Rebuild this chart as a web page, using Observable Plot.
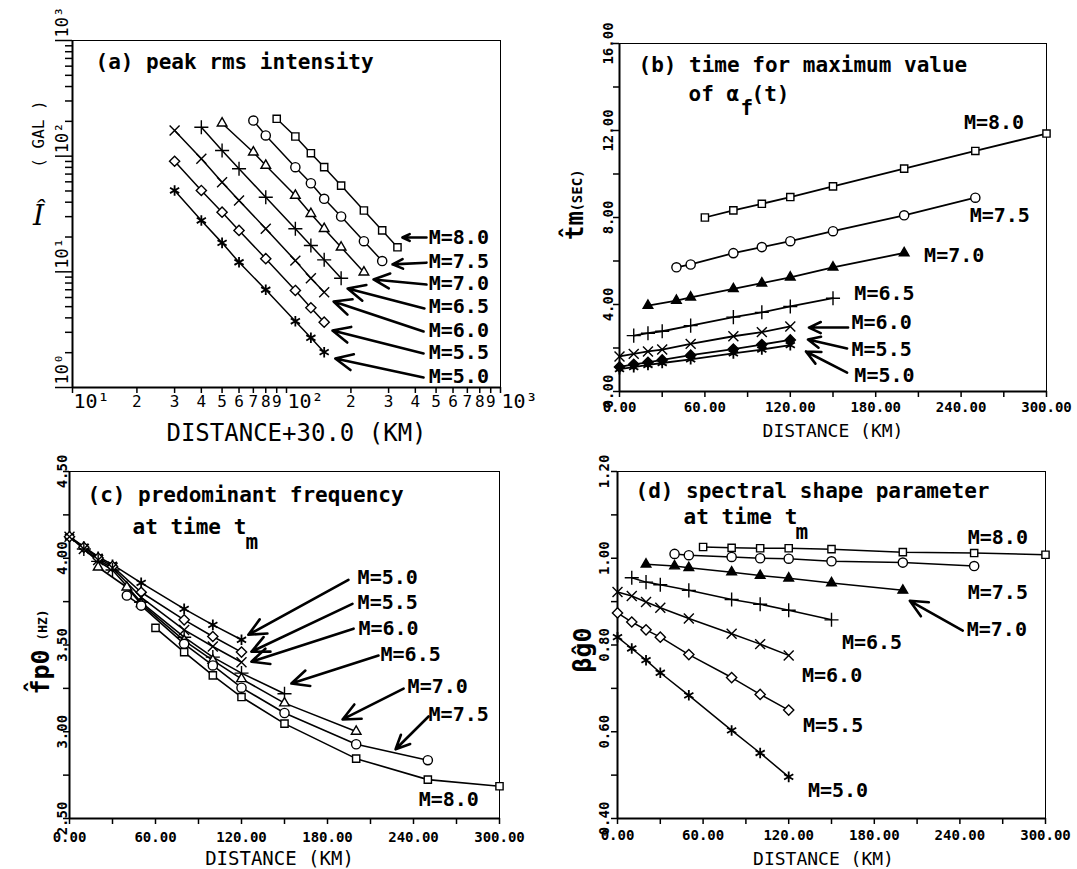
<!DOCTYPE html>
<html><head><meta charset="utf-8">
<script src="https://cdn.jsdelivr.net/npm/d3@7"></script>
<script src="https://cdn.jsdelivr.net/npm/@observablehq/plot@0.6"></script>
<style>
html,body{margin:0;padding:0;background:#fff;}
#root{position:relative;width:1077px;height:869px;overflow:hidden;background:#fff;}
.panel{position:absolute;}
.panel svg{display:block;overflow:visible;}
</style></head>
<body><div id="root"></div>
<script>
// ---------- data ----------
const magnitudes = ["5.0","5.5","6.0","6.5","7.0","7.5","8.0"];
const distM50 = [0,10,20,30,50,80,100,120];
const distM55 = [0,10,20,30,50,80,100,120];
const distM60 = [0,10,20,30,50,80,100,120];
const distM65 = [10,20,30,50,80,100,120,150];
const distM70 = [20,40,50,80,100,120,150,200];
const distM75 = [40,50,80,100,120,150,200,250];
const distM80 = [60,80,100,120,150,200,250,300];

// (a) peak rms intensity (gal) vs distance+30
const peakM50 = [50.5,27.8,17.8,12.1,7.0,3.74,2.69,2.02];
const peakM55 = [90.4,50.5,32.8,22.8,13.0,6.90,4.89,3.67];
const peakM60 = [166.7,94.8,59.6,41.4,23.6,12.5,8.81,6.67];
const peakM65 = [177.8,111.9,77.8,44.2,23.6,16.9,12.7,8.81];
const peakM70 = [192.8,108.2,83.0,45.7,31.8,23.6,16.3,9.93];
const peakM75 = [203.2,151.0,80.3,58.3,42.8,30.1,18.4,12.4];
const peakM80 = [210.4,147.9,106.1,80.3,55.7,33.9,22.8,16.3];

// (b) time for maximum value (sec)
const tmM50 = [1.03,1.12,1.22,1.31,1.48,1.75,1.93,2.13];
const tmM55 = [1.13,1.25,1.34,1.45,1.67,1.95,2.16,2.37];
const tmM60 = [1.61,1.73,1.84,1.93,2.19,2.54,2.73,2.99];
const tmM65 = [2.57,2.68,2.77,3.03,3.42,3.64,3.91,4.29];
const tmM70 = [3.95,4.18,4.33,4.72,4.98,5.25,5.71,6.37];
const tmM75 = [5.71,5.84,6.36,6.64,6.91,7.37,8.10,8.91];
const tmM80 = [8.0,8.33,8.63,8.94,9.43,10.25,11.06,11.86];

// (c) predominant frequency (Hz)
const fpM50 = [4.124,4.067,4.009,3.963,3.858,3.708,3.616,3.530];
const fpM55 = [4.124,4.063,4.001,3.953,3.804,3.645,3.549,3.459];
const fpM60 = [4.124,4.053,3.990,3.944,3.775,3.587,3.491,3.401];
const fpM65 = [4.053,3.982,3.932,3.746,3.545,3.430,3.338,3.219];
const fpM70 = [3.948,3.833,3.737,3.525,3.411,3.305,3.165,3.002];
const fpM75 = [3.785,3.727,3.507,3.382,3.254,3.108,2.928,2.836];
const fpM80 = [3.599,3.459,3.325,3.200,3.047,2.845,2.724,2.686];

// (d) spectral shape parameter
const bgM50 = [0.818,0.792,0.765,0.736,0.684,0.603,0.551,0.496];
const bgM55 = [0.874,0.853,0.835,0.818,0.778,0.725,0.686,0.650];
const bgM60 = [0.922,0.913,0.899,0.886,0.861,0.826,0.802,0.776];
const bgM65 = [0.955,0.945,0.939,0.926,0.905,0.894,0.880,0.858];
const bgM70 = [0.986,0.982,0.978,0.968,0.960,0.954,0.943,0.926];
const bgM75 = [1.010,1.007,1.003,1.000,0.999,0.993,0.990,0.982];
const bgM80 = [1.026,1.024,1.023,1.023,1.021,1.014,1.012,1.008];

// annotation labels (data units)
const aLabelText = ["M=8.0","M=7.5","M=7.0","M=6.5","M=6.0","M=5.5","M=5.0"];
const aLabelX = [462,462,462,462,462,462,462];
const aLabelY = [19.8,12.3,7.93,5.01,3.11,2.01,1.24];
const aArrowX1 = [451,451,451,441,437,437,437];
const aArrowY1 = [19.8,12.0,7.77,4.82,3.05,1.97,1.22];
const aArrowX2 = [348,313,255,193,166,164,169];
const aArrowY2 = [19.8,11.6,8.59,7.18,5.54,3.11,1.78];

const bLabelText = ["M=8.0","M=7.5","M=7.0","M=6.5","M=6.0","M=5.5","M=5.0"];
const bLabelX = [242,246,214,165,163,163,165];
const bLabelY = [12.37,8.09,6.25,4.5,3.17,1.93,0.74];
const bArrowX1 = [160.6,159.9,159.9];
const bArrowY1 = [2.94,1.98,0.87];
const bArrowX2 = [133.1,132.4,131];
const bArrowY2 = [2.94,2.39,1.84];

const cLabelText = ["M=5.0","M=5.5","M=6.0","M=6.5","M=7.0","M=7.5","M=8.0"];
const cLabelX = [201,201,201.6,217,235.9,250.5,243.6];
const cLabelY = [3.887,3.743,3.594,3.444,3.260,3.099,2.611];
const cArrowX1 = [194.6,197.4,198.2,215.6,233.1,250.5];
const cArrowY1 = [3.875,3.737,3.594,3.439,3.249,3.088];
const cArrowX2 = [124.8,126.9,126.9,154.8,190.5,227.5];
const cArrowY2 = [3.559,3.461,3.404,3.278,3.071,2.899];

const dLabelText = ["M=8.0","M=7.5","M=7.0","M=6.5","M=6.0","M=5.5","M=5.0"];
const dLabelX = [245.5,245.5,244.8,157.3,129.3,130,133.5];
const dLabelY = [1.047,0.920,0.835,0.805,0.729,0.614,0.465];
const dArrowX1 = [242];
const dArrowY1 = [0.833];
const dArrowX2 = [204.9];
const dArrowY2 = [0.902];

// ticks
const aXMinorTicks = [20,30,40,50,60,70,80,90,200,300,400,500,600,700,800,900];
const aXMinorLabels = ["2","3","4","5","6","7","8","9","2","3","4","5","6","7","8","9"];
const aXMajorTicks = [10,100,1000];
const aXMajorLabels = ["10¹","10²","10³"];
const aYMinorTicks = [2,3,4,5,6,7,8,9,20,30,40,50,60,70,80,90,200,300,400,500,600,700,800,900];
const aYMajorTicks = [1,10,100,1000];
const aYMajorLabels = ["10⁰","10¹","10²","10³"];

const distTickMarks = [0,30,60,90,120,150,180,210,240,270,300];
const distTicks = [0,60,120,180,240,300];
const distTickLabels = ["0.00","60.00","120.00","180.00","240.00","300.00"];
const bYTickMarks = [0,2,4,6,8,10,12,14,16];
const bYTicks = [0,4,8,12,16];
const bYTickLabels = ["0.00","4.00","8.00","12.00","16.00"];
const cYTickMarks = [2.5,2.75,3,3.25,3.5,3.75,4,4.25,4.5];
const cYTicks = [2.5,3,3.5,4,4.5];
const cYTickLabels = ["2.50","3.00","3.50","4.00","4.50"];
const dYTickMarks = [0.4,0.5,0.6,0.7,0.8,0.9,1.0,1.1,1.2];
const dYTicks = [0.4,0.6,0.8,1.0,1.2];
const dYTickLabels = ["0.40","0.60","0.80","1.00","1.20"];

const symbolNames = ["asterisk","diamond2","times","plus","triangle2","circle","square2"];

// ---------- helpers ----------
const FONT = "DejaVu Sans Mono";
const allDist = [distM50,distM55,distM60,distM65,distM70,distM75,distM80];
function buildRows(vals, offset) {
  const rows = [];
  magnitudes.forEach((m, i) => allDist[i].forEach((d, j) => rows.push({m, x: d + offset, y: vals[i][j]})));
  return rows;
}
function labelRows(t, xs, ys) { return t.map((s, i) => ({t: s, x: xs[i], y: ys[i]})); }
function arrowRows(x1, y1, x2, y2) { return x1.map((v, i) => ({x1: v, y1: y1[i], x2: x2[i], y2: y2[i]})); }
function fmt(ticks, labels) { return d => { const i = ticks.indexOf(d); return i < 0 ? "" : labels[i]; }; }

function seriesMarks(rows, fills, sw) {
  const marks = [Plot.line(rows, {x: "x", y: "y", z: "m", stroke: "black", strokeWidth: sw})];
  magnitudes.forEach((m, i) => {
    marks.push(Plot.dot(rows.filter(r => r.m === m), {
      x: "x", y: "y", symbol: symbolNames[i], r: i === 0 ? 5 : 4.6,
      stroke: "black", fill: fills[i], strokeWidth: i === 0 ? 1.8 : 1.4
    }));
  });
  return marks;
}
function annotationMarks(labels, arrows) {
  return [
    Plot.arrow(arrows, {x1: "x1", y1: "y1", x2: "x2", y2: "y2", stroke: "black", strokeWidth: 2.6, headLength: 11, headAngle: 50}),
    Plot.text(labels, {x: "x", y: "y", text: "t", textAnchor: "start", lineAnchor: "middle", fontSize: 20, fontWeight: "bold", fontFamily: FONT})
  ];
}
function linearAxes(yMarks, yTicks, yLabels, xPad, yPad) {
  return [
    Plot.axisX(distTickMarks, {anchor: "bottom", tickSize: 6, tickFormat: () => "", label: null, strokeWidth: 1.5}),
    Plot.axisX(distTicks, {anchor: "bottom", tickSize: 0, tickPadding: xPad, tickFormat: fmt(distTicks, distTickLabels), fontSize: 14, fontWeight: "bold", fontFamily: FONT, label: null}),
    Plot.axisY(yMarks, {anchor: "left", tickSize: 6, tickFormat: () => "", label: null, strokeWidth: 1.5}),
    Plot.axisY(yTicks, {anchor: "left", tickSize: 0, tickPadding: yPad, tickRotate: -90, tickFormat: fmt(yTicks, yLabels), fontSize: 14, fontWeight: "bold", fontFamily: FONT, label: null})
  ];
}
function frameMarks(x0, y0) {
  return [
    Plot.frame({stroke: "black", strokeWidth: 1}),
    Plot.ruleX([x0], {stroke: "black", strokeWidth: 2}),
    Plot.ruleY([y0], {stroke: "black", strokeWidth: 2})
  ];
}
function txt(s, o) {
  return Plot.text([s], Object.assign({text: d => d, fontFamily: FONT, textAnchor: "start", lineAnchor: "middle"}, o));
}
const root = document.getElementById("root");
function place(svg, left, top, w, h) {
  const div = document.createElement("div");
  div.className = "panel";
  Object.assign(div.style, {left: left + "px", top: top + "px", width: w + "px", height: h + "px"});
  div.appendChild(svg);
  root.appendChild(div);
}
const baseStyle = {fontFamily: FONT, background: "transparent", overflow: "visible"};

// ---------- panel (a) ----------
{
  const rows = buildRows([peakM50,peakM55,peakM60,peakM65,peakM70,peakM75,peakM80], 30);
  const svg = Plot.plot({
    width: 540, height: 440, marginLeft: 72, marginRight: 40, marginTop: 40, marginBottom: 53,
    style: baseStyle,
    x: {type: "log", domain: [10, 1000]},
    y: {type: "log", domain: [1, 1000]},
    marks: [
      ...frameMarks(10, 1),
      Plot.axisX(aXMinorTicks.concat(aXMajorTicks), {anchor: "bottom", tickSize: 6, tickFormat: () => "", label: null, strokeWidth: 1.5}),
      Plot.text(aXMinorTicks, {x: d => d, text: (d, i) => aXMinorLabels[i], frameAnchor: "bottom", dy: 8, lineAnchor: "top", fontSize: 16, fontFamily: FONT}),
      Plot.text(aXMajorTicks, {x: d => d, text: (d, i) => aXMajorLabels[i], frameAnchor: "bottom", dx: 1, dy: 6, textAnchor: "start", lineAnchor: "top", fontSize: 20, fontFamily: FONT}),
      Plot.axisY(aYMinorTicks, {anchor: "left", tickSize: 7, tickFormat: () => "", label: null, strokeWidth: 1.5}),
      Plot.axisY(aYMajorTicks, {anchor: "left", tickSize: 17, tickFormat: () => "", label: null, strokeWidth: 1.5}),
      Plot.text(aYMajorTicks, {y: d => d, text: (d, i) => aYMajorLabels[i], frameAnchor: "left", dx: -5, dy: -3, rotate: -90, textAnchor: "start", lineAnchor: "bottom", fontSize: 17, fontFamily: FONT}),
      ...seriesMarks(rows, ["black","white","none","none","white","white","white"], 1.5),
      ...annotationMarks(labelRows(aLabelText, aLabelX, aLabelY), arrowRows(aArrowX1, aArrowY1, aArrowX2, aArrowY2)),
      txt("(a) peak rms intensity", {frameAnchor: "top-left", dx: 23, dy: 22, fontSize: 21, fontWeight: "bold"}),
      txt("Î", {frameAnchor: "left", dx: -34, dy: 2, textAnchor: "middle", fontSize: 28, fontFamily: "DejaVu Serif", fontStyle: "italic"}),
      txt("( GAL )", {frameAnchor: "left", dx: -34, dy: -80, textAnchor: "middle", rotate: -90, fontSize: 16}),
      txt("DISTANCE+30.0 (KM)", {frameAnchor: "bottom", dx: 10, dy: 46, textAnchor: "middle", fontSize: 24})
    ]
  });
  place(svg, 0, 0, 540, 440);
}

// ---------- panel (b) ----------
{
  const rows = buildRows([tmM50,tmM55,tmM60,tmM65,tmM70,tmM75,tmM80], 0);
  const svg = Plot.plot({
    width: 537, height: 440, marginLeft: 79, marginRight: 31, marginTop: 43, marginBottom: 49,
    style: baseStyle,
    x: {domain: [0, 300]},
    y: {domain: [0, 16]},
    marks: [
      ...frameMarks(0, 0),
      ...linearAxes(bYTickMarks, bYTicks, bYTickLabels, 11, 7),
      ...seriesMarks(rows, ["black","black","none","none","black","white","white"], 1.8),
      ...annotationMarks(labelRows(bLabelText, bLabelX, bLabelY), arrowRows(bArrowX1, bArrowY1, bArrowX2, bArrowY2)),
      txt("(b) time for maximum value", {frameAnchor: "top-left", dx: 19, dy: 22, fontSize: 21, fontWeight: "bold"}),
      txt("of α", {frameAnchor: "top-left", dx: 69, dy: 51, fontSize: 21, fontWeight: "bold"}),
      txt("f", {frameAnchor: "top-left", dx: 121, dy: 65, fontSize: 21, fontWeight: "bold"}),
      txt("(t)", {frameAnchor: "top-left", dx: 132, dy: 51, fontSize: 21, fontWeight: "bold"}),
      txt("t\u0302m", {frameAnchor: "left", dx: -44, dy: 8, textAnchor: "middle", rotate: -90, fontSize: 24, fontWeight: "bold"}),
      txt("(SEC)", {frameAnchor: "left", dx: -42, dy: -27, textAnchor: "middle", rotate: -90, fontSize: 14, fontWeight: "bold"}),
      txt("DISTANCE (KM)", {frameAnchor: "bottom", dx: 0, dy: 40, textAnchor: "middle", fontSize: 18})
    ]
  });
  place(svg, 540, 0, 537, 440);
}

// ---------- panel (c) ----------
{
  const rows = buildRows([fpM50,fpM55,fpM60,fpM65,fpM70,fpM75,fpM80], 0);
  const svg = Plot.plot({
    width: 540, height: 429, marginLeft: 69, marginRight: 41, marginTop: 31, marginBottom: 51,
    style: baseStyle,
    x: {domain: [0, 300]},
    y: {domain: [2.5, 4.5]},
    marks: [
      ...frameMarks(0, 2.5),
      ...linearAxes(cYTickMarks, cYTicks, cYTickLabels, 14, 3),
      ...seriesMarks(rows, ["black","white","none","none","white","white","white"], 1.6),
      ...annotationMarks(labelRows(cLabelText, cLabelX, cLabelY), arrowRows(cArrowX1, cArrowY1, cArrowX2, cArrowY2)),
      txt("(c) predominant frequency", {frameAnchor: "top-left", dx: 18, dy: 24, fontSize: 21, fontWeight: "bold"}),
      txt("at time t", {frameAnchor: "top-left", dx: 63, dy: 56, fontSize: 21, fontWeight: "bold"}),
      txt("m", {frameAnchor: "top-left", dx: 176, dy: 71, fontSize: 21, fontWeight: "bold"}),
      txt("f\u0302p0", {frameAnchor: "left", dx: -29, dy: 27, textAnchor: "middle", rotate: -90, fontSize: 25, fontWeight: "bold"}),
      txt("(HZ)", {frameAnchor: "left", dx: -27, dy: -20, textAnchor: "middle", rotate: -90, fontSize: 13, fontWeight: "bold"}),
      txt("DISTANCE (KM)", {frameAnchor: "bottom", dx: -5, dy: 40, textAnchor: "middle", fontSize: 19})
    ]
  });
  place(svg, 0, 440, 540, 429);
}

// ---------- panel (d) ----------
{
  const rows = buildRows([bgM50,bgM55,bgM60,bgM65,bgM70,bgM75,bgM80], 0);
  const svg = Plot.plot({
    width: 537, height: 429, marginLeft: 77, marginRight: 32, marginTop: 31, marginBottom: 51,
    style: baseStyle,
    x: {domain: [0, 300]},
    y: {domain: [0.4, 1.2]},
    marks: [
      ...frameMarks(0, 0.4),
      ...linearAxes(dYTickMarks, dYTicks, dYTickLabels, 12, 9),
      ...seriesMarks(rows, ["black","white","none","none","black","white","white"], 1.5),
      ...annotationMarks(labelRows(dLabelText, dLabelX, dLabelY), arrowRows(dArrowX1, dArrowY1, dArrowX2, dArrowY2)),
      txt("(d) spectral shape parameter", {frameAnchor: "top-left", dx: 18, dy: 20, fontSize: 21, fontWeight: "bold"}),
      txt("at time t", {frameAnchor: "top-left", dx: 66, dy: 46, fontSize: 21, fontWeight: "bold"}),
      txt("m", {frameAnchor: "top-left", dx: 178, dy: 61, fontSize: 21, fontWeight: "bold"}),
      txt("\u03B2\u0302g0", {frameAnchor: "left", dx: -35, dy: 5, textAnchor: "middle", rotate: -90, fontSize: 25, fontWeight: "bold"}),
      txt("DISTANCE (KM)", {frameAnchor: "bottom", dx: -8, dy: 41, textAnchor: "middle", fontSize: 18})
    ]
  });
  place(svg, 540, 440, 537, 429);
}
</script>
</body></html>
